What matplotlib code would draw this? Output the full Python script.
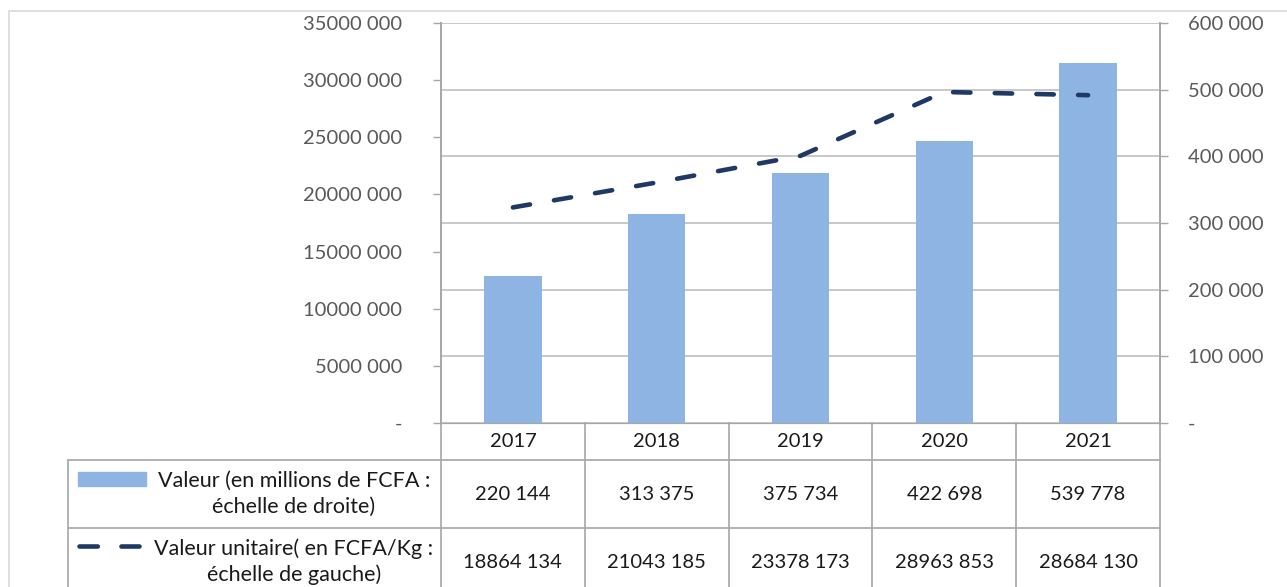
import matplotlib.pyplot as plt
from matplotlib.lines import Line2D
from matplotlib.patches import Rectangle

# Donnees
annees = ["2017", "2018", "2019", "2020", "2021"]
valeur = [220144, 313375, 375734, 422698, 539778]          # millions FCFA (droite)
valeur_unitaire = [18864134, 21043185, 23378173, 28963853, 28684130]  # FCFA/Kg (gauche)
label_valeur = "Valeur (en millions de FCFA :\néchelle de droite)"
label_unitaire = "Valeur unitaire( en FCFA/Kg :\néchelle de gauche)"

BAR = "#8EB4E3"
LINE = "#1F3864"
GRID = "#BFBFBF"
EDGE = "#A6A6A6"
TXT = "#595959"

plt.rcParams['font.family'] = ['Lato', 'DejaVu Sans']
plt.rcParams['lines.scale_dashes'] = False


def fmt(v):
    if v == 0:
        return "-"
    return f"{v // 1000} {v % 1000:03d}"


W, H = 1287, 587
fig = plt.figure(figsize=(W / 100, H / 100), dpi=100)
ax = fig.add_axes([441 / W, 1 - 423 / H, 719 / W, 400 / H])
ax2 = ax.twinx()

x = list(range(len(annees)))

# barres sur l'echelle de droite
ax.bar(x, valeur, width=0.4, color=BAR, zorder=2)
ax.set_ylim(0, 600000)
ax.set_yticks(range(0, 600001, 100000))
ax.set_yticklabels([fmt(v) for v in range(0, 600001, 100000)])
ax.yaxis.tick_right()
ax.grid(axis='y', color=GRID, lw=1.2, zorder=0)
ax.set_axisbelow(True)
ax.tick_params(axis='y', length=6, width=1, color=EDGE, pad=14, labelsize=14.5, labelcolor=TXT)
ax.set_xlim(-0.5, len(annees) - 0.5)
ax.set_xticks([])

# ligne sur l'echelle de gauche
ax2.plot(x, valeur_unitaire, color=LINE, lw=3.3, dashes=(12.5, 17.5),
         dash_capstyle='round', solid_capstyle='round')
ax2.set_ylim(0, 35000000)
ax2.set_yticks(range(0, 35000001, 5000000))
ax2.set_yticklabels([fmt(v) for v in range(0, 35000001, 5000000)])
ax2.yaxis.tick_left()
ax2.tick_params(axis='y', length=6, width=1, color=EDGE, pad=22, labelsize=14.5, labelcolor=TXT)

for a in (ax, ax2):
    a.spines['top'].set_visible(False)
    a.spines['left'].set_color(EDGE)
    a.spines['right'].set_color(EDGE)
    a.spines['bottom'].set_color(EDGE)
    a.spines['left'].set_linewidth(1.2)
    a.spines['right'].set_linewidth(1.2)

# tableau de donnees
r1, r2, r3 = -37 / 400, -105 / 400, -173 / 400
xl = (68 - 441) / 719
kw = dict(color=EDGE, lw=1.2, clip_on=False)
tb = ax.get_xaxis_transform()
for b in [i - 0.5 for i in range(len(annees) + 1)]:
    ax.add_line(Line2D([b, b], [0, r3], transform=tb, **kw))
for yy in (r1, r2, r3):
    ax.add_line(Line2D([xl, 1], [yy, yy], transform=ax.transAxes, **kw))
ax.add_line(Line2D([xl, xl], [r1, r3], transform=ax.transAxes, **kw))

for i, an in enumerate(annees):
    ax.text(i, r1 / 2, an, transform=tb, ha='center', va='center', fontsize=14.5, color='#1a1a1a')
    ax.text(i, (r1 + r2) / 2, fmt(valeur[i]), transform=tb, ha='center', va='center',
            fontsize=14.5, color='#1a1a1a')
    ax.text(i, (r2 + r3) / 2, fmt(valeur_unitaire[i]), transform=tb, ha='center', va='center',
            fontsize=14.5, color='#1a1a1a')

xc = (294 - 441) / 719
ax.text(xc, (r1 + r2) / 2, label_valeur, transform=ax.transAxes, ha='center', va='center',
        fontsize=15.5, color='#1a1a1a', linespacing=1.35, multialignment='center')
ax.text(xc, (r2 + r3) / 2, label_unitaire, transform=ax.transAxes, ha='center', va='center',
        fontsize=15.5, color='#1a1a1a', linespacing=1.35, multialignment='center')

# cles de legende
fig.add_artist(Rectangle((78 / W, 1 - 486 / H), 68 / W, 14 / H, color=BAR, transform=fig.transFigure))
fig.add_artist(Line2D([78.5 / W, 139 / W], [1 - 546 / H] * 2, color=LINE, lw=3.3, dashes=(13.2, 17),
                      dash_capstyle='round', transform=fig.transFigure))

# cadre exterieur
fig.add_artist(Rectangle((9 / W, -0.1), 2, 1 - 11 / H + 0.1, fill=False, ec='#D9D9D9', lw=1.2,
                         transform=fig.transFigure))

fig.savefig("out.png", dpi=100)
